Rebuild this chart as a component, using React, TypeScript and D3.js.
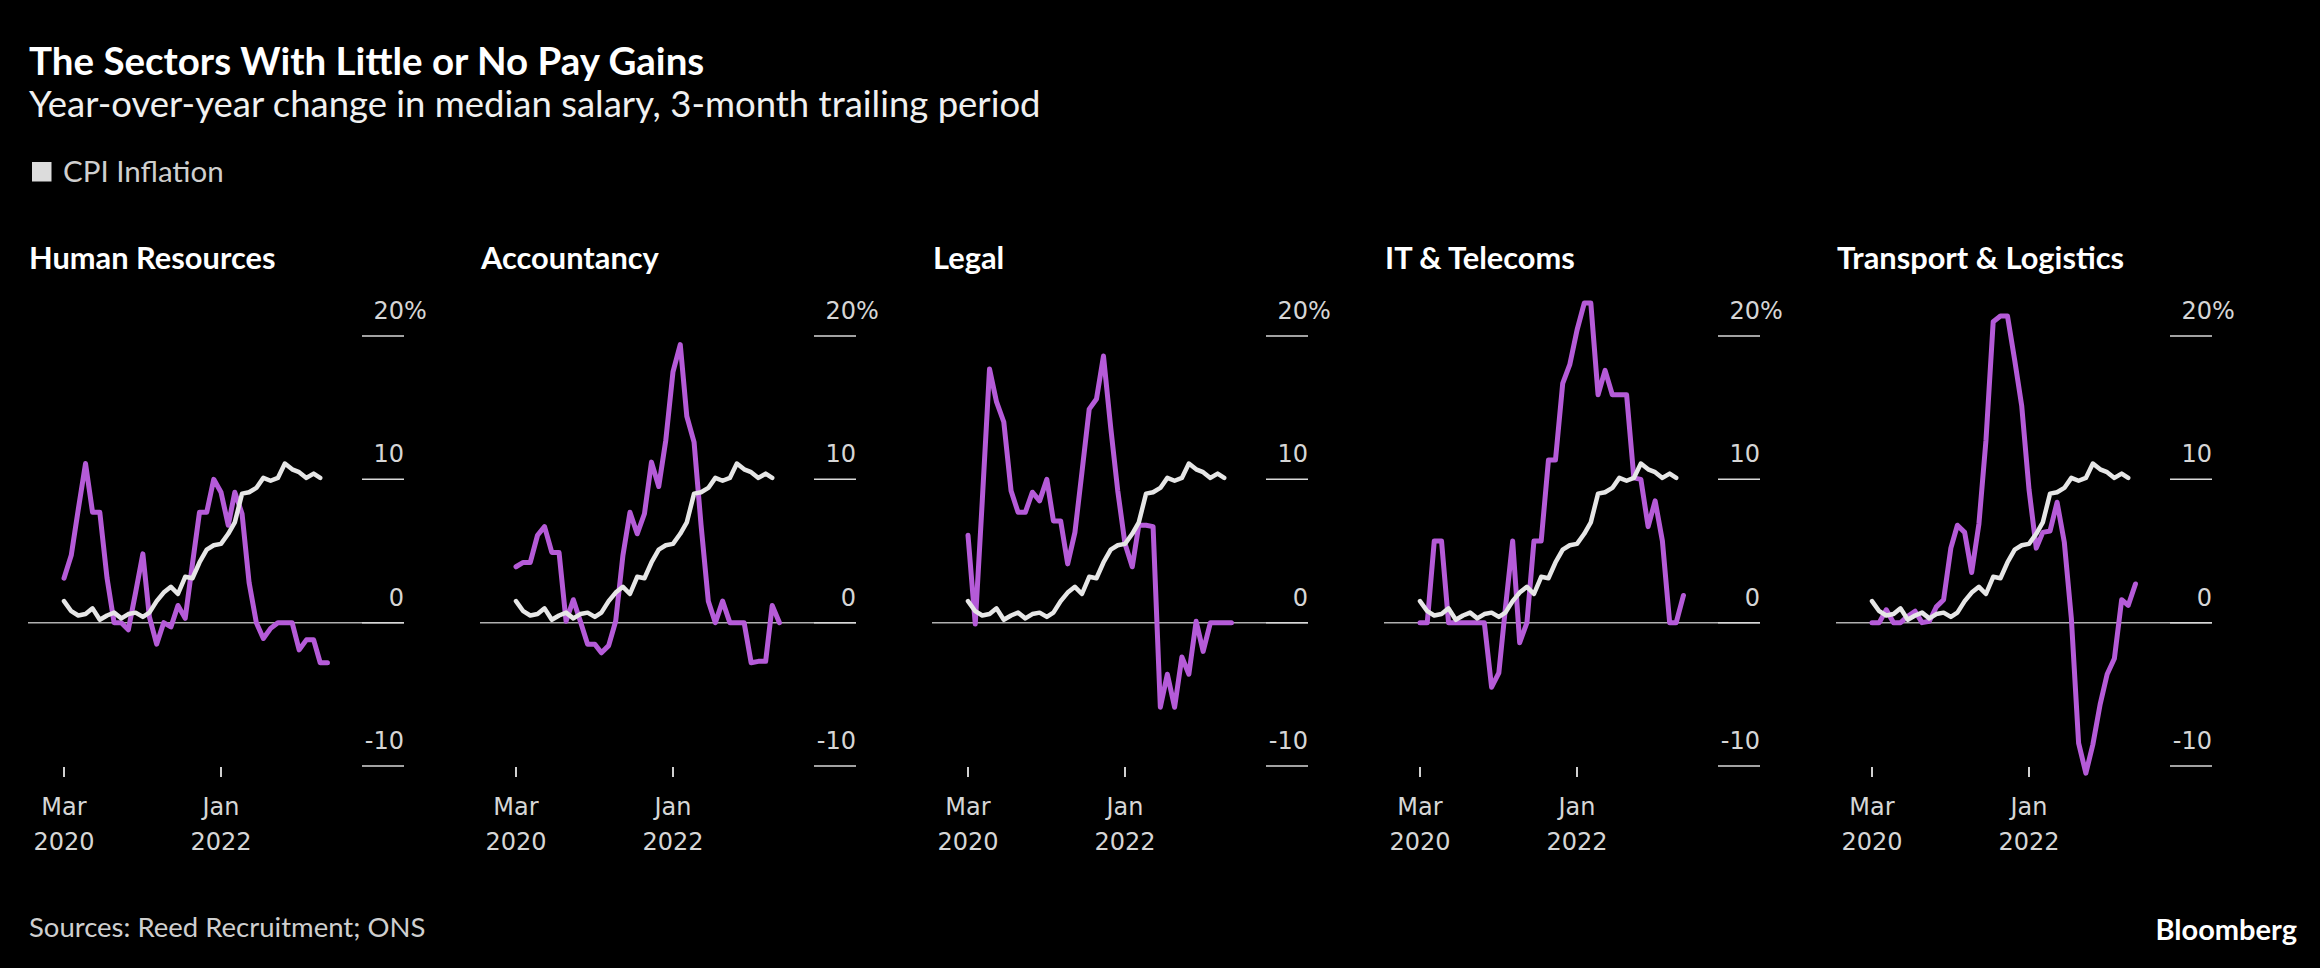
import React from "react";
import * as d3 from "d3";

// monthly observations, Mar 2020 .. Apr 2023
const months = [
  "2020-03", "2020-04", "2020-05", "2020-06", "2020-07", "2020-08", "2020-09", "2020-10", "2020-11", "2020-12",
  "2021-01", "2021-02", "2021-03", "2021-04", "2021-05", "2021-06", "2021-07", "2021-08", "2021-09", "2021-10",
  "2021-11", "2021-12", "2022-01", "2022-02", "2022-03", "2022-04", "2022-05", "2022-06", "2022-07", "2022-08",
  "2022-09", "2022-10", "2022-11", "2022-12", "2023-01", "2023-02", "2023-03", "2023-04",
];

// CPI inflation, Mar 2020 .. Mar 2023
const cpiInflation = [
  1.5, 0.8, 0.5, 0.6, 1.0, 0.2, 0.5, 0.7, 0.3, 0.6, 0.7, 0.4, 0.7, 1.5, 2.1, 2.5, 2.0, 3.2, 3.1, 4.2,
  5.1, 5.4, 5.5, 6.2, 7.0, 9.0, 9.1, 9.4, 10.1, 9.9, 10.1, 11.1, 10.7, 10.5, 10.1, 10.4, 10.1,
];

const humanResources = [
  3.1, 4.7, 7.9, 11.1, 7.7, 7.7, 3.1, 0, 0, -0.5, 2.1, 4.8, 0.4, -1.5, 0, -0.3, 1.2, 0.3, 4.1, 7.7,
  7.7, 10.0, 9.1, 6.8, 9.1, 7.6, 2.8, 0, -1.1, -0.4, 0, 0, 0, -1.9, -1.2, -1.2, -2.8, -2.8,
];

const accountancy = [
  3.9, 4.2, 4.2, 6.1, 6.7, 4.9, 4.9, 0.1, 1.6, 0.1, -1.5, -1.5, -2.1, -1.6, 0.1, 4.7, 7.7, 6.2, 7.6, 11.2,
  9.5, 12.7, 17.5, 19.4, 14.4, 12.6, 6.8, 1.5, 0, 1.5, 0, 0, 0, -2.8, -2.7, -2.7, 1.2, 0,
];

const legal = [
  6.1, -0.1, 8.5, 17.7, 15.4, 14.0, 9.2, 7.7, 7.7, 9.1, 8.5, 10.0, 7.1, 7.1, 4.1, 6.3, 10.5, 14.9, 15.6, 18.6,
  13.6, 9.2, 5.5, 3.9, 6.8, 6.8, 6.7, -5.9, -3.6, -5.9, -2.4, -3.6, 0.1, -2.0, 0, 0, 0, 0,
];

const itTelecoms = [
  0, 0, 5.7, 5.7, 0, 0, 0, 0, 0, 0, -4.5, -3.5, 1.0, 5.7, -1.4, 0, 5.7, 5.7, 11.35, 11.35,
  16.7, 18.0, 20.4, 22.3, 22.3, 15.9, 17.6, 15.9, 15.9, 15.9, 10.1, 10.0, 6.7, 8.5, 5.7, 0, 0, 1.9,
];

const transportLogistics = [
  0, 0, 0.9, 0, 0, 0.45, 0.8, 0, 0.1, 1.1, 1.6, 5.2, 6.8, 6.3, 3.5, 6.9, 12.7, 21.0, 21.4, 21.4,
  18.3, 15.1, 9.3, 5.2, 6.3, 6.4, 8.4, 5.6, 0.3, -8.4, -10.5, -8.5, -5.7, -3.6, -2.5, 1.6, 1.2, 2.7,
];

const sectorNames = ["Human Resources", "Accountancy", "Legal", "IT & Telecoms", "Transport & Logistics"];
const sectorValues = [humanResources, accountancy, legal, itTelecoms, transportLogistics];

const yTicks = [20, 10, 0, -10];
const xTicks = ["2020-03", "2022-01"];

const parse = d3.timeParse("%Y-%m");
const dates = months.map((m) => parse(m) as Date);

const TEXT_FONT = "Lato, 'Noto Sans', sans-serif";
const AXIS_FONT = "'DejaVu Sans', sans-serif";
const PURPLE = "#b55bd8";
const WHITE = "#e6e6e6";

const panelLeft0 = 28;
const panelStep = 452;
const panelWidth = 376;

const y = d3.scaleLinear().domain([-10, 20]).range([766, 336]);

const Panel = ({ index }: { index: number }) => {
  const left = panelLeft0 + index * panelStep;
  const x = d3
    .scaleTime()
    .domain([parse(xTicks[0]) as Date, parse(xTicks[1]) as Date])
    .range([left + 36, left + 193]);

  const line = d3
    .line<number>()
    .x((_, i) => x(dates[i]))
    .y((d) => y(d));

  const fmtMonth = d3.timeFormat("%b");
  const fmtYear = d3.timeFormat("%Y");
  const gridX0 = left + panelWidth - 42;
  const gridX1 = left + panelWidth;

  return (
    <g>
      <text x={left + 1} y={269} fill="#fff" fontFamily={TEXT_FONT} fontWeight={700} fontSize={30.8}>
        {sectorNames[index]}
      </text>

      {/* zero line across the panel */}
      <line x1={left} x2={gridX1} y1={y(0)} y2={y(0)} stroke="#b0b0b0" strokeWidth={1.5} />

      {yTicks.map((t) => (
        <g key={t}>
          <line x1={gridX0} x2={gridX1} y1={y(t)} y2={y(t)} stroke="#d8d8d8" strokeWidth={1.5} />
          <text
            x={gridX1}
            y={y(t) - 17}
            textAnchor="end"
            fill="#d6d6d6"
            fontFamily={AXIS_FONT}
            fontSize={24}
          >
            {t}
          </text>
          {t === 20 && (
            <text x={gridX1} y={y(t) - 17} fill="#d6d6d6" fontFamily={AXIS_FONT} fontSize={24}>
              %
            </text>
          )}
        </g>
      ))}

      {xTicks.map((m) => {
        const d = parse(m) as Date;
        const tx = x(d);
        return (
          <g key={m}>
            <line x1={tx} x2={tx} y1={767} y2={777} stroke="#d0d0d0" strokeWidth={2} />
            <text x={tx} y={815} textAnchor="middle" fill="#d6d6d6" fontFamily={AXIS_FONT} fontSize={24}>
              {fmtMonth(d)}
            </text>
            <text x={tx} y={850} textAnchor="middle" fill="#d6d6d6" fontFamily={AXIS_FONT} fontSize={24}>
              {fmtYear(d)}
            </text>
          </g>
        );
      })}

      <path
        d={line(sectorValues[index]) || ""}
        fill="none"
        stroke={PURPLE}
        strokeWidth={5}
        strokeLinejoin="round"
        strokeLinecap="round"
      />
      <path
        d={line(cpiInflation) || ""}
        fill="none"
        stroke={WHITE}
        strokeWidth={4.5}
        strokeLinejoin="round"
        strokeLinecap="round"
      />
    </g>
  );
};

export default function App() {
  return (
    <svg
      width={2320}
      height={968}
      style={{ position: "absolute", left: 0, top: 0, background: "#000" }}
    >
      <rect width={2320} height={968} fill="#000" />
      <text x={29} y={75} fill="#fff" fontFamily={TEXT_FONT} fontWeight={700} fontSize={38.5}>
        The Sectors With Little or No Pay Gains
      </text>
      <text x={29} y={117} fill="#f0f0f0" fontFamily={TEXT_FONT} fontSize={36.5}>
        Year-over-year change in median salary, 3-month trailing period
      </text>

      <rect x={32} y={162} width={19.5} height={19.5} fill="#dcdcdc" />
      <text x={63} y={181.5} fill="#cfcfcf" fontFamily={TEXT_FONT} fontSize={29.5}>
        CPI Inflation
      </text>

      {sectorNames.map((_, i) => (
        <Panel key={i} index={i} />
      ))}

      <text x={29} y={937} fill="#cfcfcf" fontFamily={TEXT_FONT} fontSize={27.5}>
        Sources: Reed Recruitment; ONS
      </text>
      <text x={2297} y={940} textAnchor="end" fill="#fff" fontFamily={TEXT_FONT} fontWeight={700} fontSize={29}>
        Bloomberg
      </text>
    </svg>
  );
}
